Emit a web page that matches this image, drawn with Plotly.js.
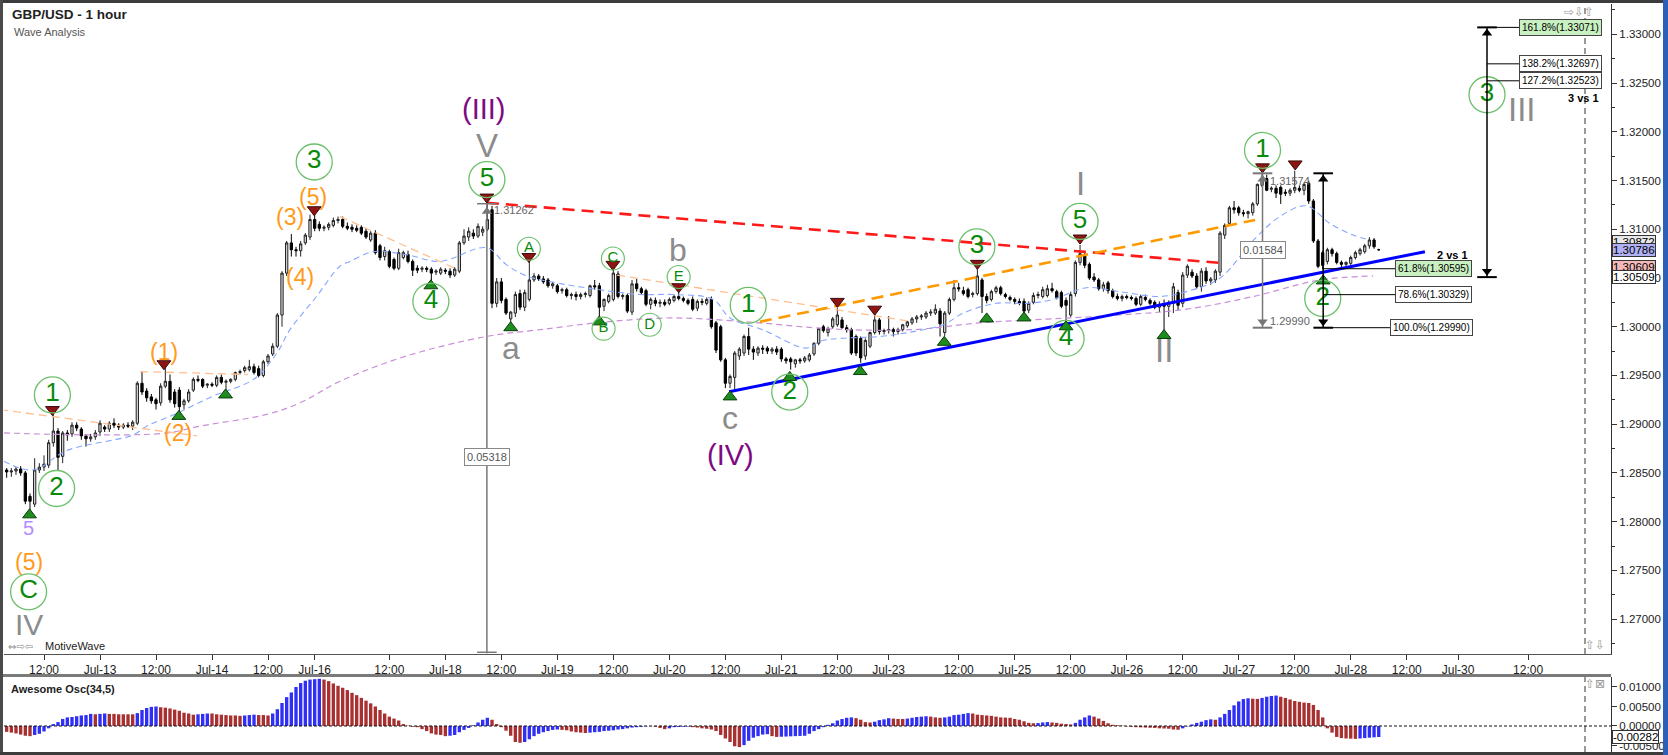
<!DOCTYPE html>
<html><head><meta charset="utf-8">
<script src="https://cdn.plot.ly/plotly-3.0.1.min.js"></script>
<style>html,body{margin:0;padding:0;background:#fff;}#chart{width:1668px;height:755px;}</style>
</head><body><div id="chart"></div>
<script>
// ---------- DATA (hourly GBP/USD bars, index 4..298) ----------
const firstBar = 4;
const opens = [
1.2853,1.2851,1.2852,1.2854,1.2850,1.2826,1.2818,1.2853,1.2856,1.2858,
1.2881,1.2893,1.2867,1.2891,1.2890,1.2899,1.2895,1.2888,1.2885,1.2887,
1.2892,1.2897,1.2895,1.2901,1.2899,1.2897,1.2899,1.2898,1.2901,1.2942,
1.2934,1.2928,1.2925,1.2922,1.2939,1.2944,1.2933,1.2935,1.2920,1.2924,
1.2935,1.2946,1.2946,1.2940,1.2941,1.2940,1.2948,1.2943,1.2944,1.2946,
1.2953,1.2955,1.2956,1.2959,1.2957,1.2950,1.2964,1.2972,1.2980,1.3012,
1.3055,1.3086,1.3079,1.3078,1.3086,1.3092,1.3110,1.3105,1.3101,1.3102,
1.3104,1.3109,1.3110,1.3103,1.3102,1.3101,1.3102,1.3098,1.3089,1.3096,
1.3083,1.3072,1.3077,1.3069,1.3060,1.3071,1.3074,1.3067,1.3060,1.3059,
1.3060,1.3059,1.3056,1.3055,1.3058,1.3057,1.3053,1.3057,1.3086,1.3092,
1.3096,1.3093,1.3097,1.3100,1.3120,1.3024,1.3046,1.3028,1.3008,1.3014,
1.3034,1.3020,1.3028,1.3048,1.3052,1.3049,1.3048,1.3042,1.3042,1.3037,
1.3038,1.3032,1.3033,1.3031,1.3033,1.3032,1.3042,1.3042,1.3021,1.3026,
1.3028,1.3054,1.3031,1.3032,1.3015,1.3044,1.3039,1.3037,1.3023,1.3027,
1.3024,1.3025,1.3024,1.3027,1.3031,1.3029,1.3027,1.3028,1.3019,1.3026,
1.3024,1.3028,1.3004,1.3000,1.2966,1.2942,1.2948,1.2970,1.2973,1.2990,
1.2977,1.2973,1.2978,1.2978,1.2975,1.2977,1.2977,1.2967,1.2967,1.2962,
1.2966,1.2965,1.2966,1.2972,1.2983,1.3000,1.2994,1.3000,1.3002,1.3007,
1.2999,1.2997,1.2990,1.2988,1.2970,1.2980,1.2994,1.3007,1.2995,1.2996,
1.2997,1.2995,1.2997,1.3001,1.3004,1.3008,1.3010,1.3010,1.3014,1.3014,
1.3016,1.2994,1.3014,1.3028,1.3040,1.3037,1.3038,1.3033,1.3034,1.3048,
1.3031,1.3028,1.3036,1.3040,1.3033,1.3030,1.3028,1.3026,1.3026,1.3017,
1.3025,1.3032,1.3031,1.3032,1.3039,1.3036,1.3035,1.3027,1.3012,1.3034,
1.3066,1.3073,1.3064,1.3051,1.3048,1.3039,1.3045,1.3037,1.3031,1.3029,
1.3031,1.3030,1.3029,1.3023,1.3030,1.3027,1.3025,1.3020,1.3023,1.3021,
1.3024,1.3035,1.3024,1.3053,1.3056,1.3052,1.3041,1.3057,1.3047,1.3048,
1.3056,1.3094,1.3106,1.3122,1.3122,1.3117,1.3116,1.3117,1.3126,1.3145,
1.3152,1.3141,1.3142,1.3143,1.3138,1.3137,1.3140,1.3142,1.3140,1.3147,
1.3129,1.3088,1.3076,1.3067,1.3079,1.3075,1.3066,1.3064,1.3065,1.3071,
1.3075,1.3077,1.3083,1.3089,1.3079];
const highs = [
1.2855,1.2855,1.2856,1.2857,1.2852,1.2829,1.2865,1.2860,1.2868,1.2884,
1.2911,1.2896,1.2893,1.2894,1.2902,1.2902,1.2897,1.2890,1.2890,1.2894,
1.2904,1.2899,1.2903,1.2906,1.2901,1.2901,1.2902,1.2904,1.2944,1.2954,
1.2937,1.2931,1.2927,1.2942,1.2959,1.2951,1.2936,1.2938,1.2926,1.2936,
1.2948,1.2950,1.2947,1.2942,1.2943,1.2950,1.2951,1.2946,1.2947,1.2954,
1.2956,1.2960,1.2966,1.2962,1.2960,1.2966,1.2972,1.2983,1.3014,1.3057,
1.3088,1.3095,1.3082,1.3088,1.3096,1.3115,1.3117,1.3108,1.3104,1.3107,
1.3112,1.3113,1.3113,1.3107,1.3105,1.3104,1.3104,1.3101,1.3098,1.3099,
1.3085,1.3082,1.3079,1.3071,1.3080,1.3078,1.3078,1.3069,1.3063,1.3062,
1.3062,1.3061,1.3059,1.3061,1.3060,1.3060,1.3061,1.3088,1.3100,1.3102,
1.3100,1.3106,1.3103,1.3126,1.3124,1.3050,1.3050,1.3030,1.3016,1.3036,
1.3038,1.3038,1.3067,1.3055,1.3054,1.3052,1.3050,1.3046,1.3044,1.3040,
1.3040,1.3035,1.3036,1.3035,1.3036,1.3043,1.3048,1.3045,1.3029,1.3034,
1.3060,1.3057,1.3034,1.3034,1.3048,1.3049,1.3041,1.3039,1.3030,1.3030,
1.3028,1.3028,1.3030,1.3033,1.3037,1.3031,1.3029,1.3031,1.3028,1.3029,
1.3030,1.3031,1.3006,1.3002,1.2968,1.2951,1.2975,1.2979,1.2992,1.2999,
1.2980,1.2980,1.2981,1.2980,1.2979,1.2980,1.2979,1.2969,1.2969,1.2967,
1.2968,1.2970,1.2973,1.2984,1.2999,1.3002,1.3000,1.3010,1.3019,1.3010,
1.3002,1.2999,1.2992,1.2990,1.2988,1.2995,1.3014,1.3009,1.2998,1.3011,
1.2999,1.2999,1.3003,1.3006,1.3010,1.3012,1.3013,1.3016,1.3018,1.3023,
1.3019,1.3016,1.3030,1.3048,1.3045,1.3041,1.3040,1.3036,1.3060,1.3050,
1.3034,1.3038,1.3042,1.3042,1.3035,1.3032,1.3030,1.3029,1.3029,1.3026,
1.3035,1.3036,1.3041,1.3043,1.3045,1.3038,1.3037,1.3030,1.3036,1.3068,
1.3084,1.3077,1.3066,1.3055,1.3050,1.3046,1.3047,1.3039,1.3034,1.3033,
1.3033,1.3032,1.3031,1.3033,1.3033,1.3029,1.3027,1.3026,1.3028,1.3027,
1.3045,1.3038,1.3056,1.3064,1.3059,1.3055,1.3060,1.3061,1.3051,1.3059,
1.3098,1.3106,1.3124,1.3129,1.3124,1.3120,1.3119,1.3128,1.3147,1.3157,
1.3156,1.3144,1.3145,1.3145,1.3141,1.3142,1.3160,1.3145,1.3148,1.3150,
1.3131,1.3090,1.3078,1.3081,1.3081,1.3077,1.3068,1.3067,1.3073,1.3078,
1.3081,1.3085,1.3092,1.3091,1.3080];
const lows = [
1.2845,1.2846,1.2848,1.2847,1.2818,1.2812,1.2815,1.2850,1.2852,1.2855,
1.2877,1.2853,1.2860,1.2883,1.2887,1.2893,1.2884,1.2877,1.2882,1.2884,
1.2888,1.2892,1.2892,1.2896,1.2894,1.2895,1.2896,1.2894,1.2899,1.2930,
1.2923,1.2921,1.2915,1.2919,1.2937,1.2922,1.2917,1.2911,1.2915,1.2922,
1.2933,1.2943,1.2937,1.2937,1.2938,1.2938,1.2941,1.2935,1.2942,1.2944,
1.2951,1.2953,1.2954,1.2951,1.2948,1.2948,1.2962,1.2970,1.2978,1.3000,
1.3052,1.3072,1.3072,1.3072,1.3084,1.3089,1.3098,1.3098,1.3098,1.3099,
1.3102,1.3106,1.3101,1.3099,1.3097,1.3097,1.3094,1.3090,1.3087,1.3074,
1.3068,1.3068,1.3060,1.3058,1.3058,1.3069,1.3065,1.3052,1.3055,1.3056,
1.3056,1.3045,1.3053,1.3053,1.3054,1.3050,1.3051,1.3055,1.3084,1.3088,
1.3090,1.3091,1.3093,1.3098,1.3019,1.3020,1.3024,1.3012,1.3002,1.3010,
1.3017,1.3016,1.3026,1.3046,1.3047,1.3044,1.3040,1.3039,1.3034,1.3034,
1.3030,1.3028,1.3027,1.3028,1.3030,1.3030,1.3038,1.3011,1.3016,1.3024,
1.3026,1.3029,1.3028,1.3014,1.3012,1.3036,1.3033,1.3021,1.3018,1.3021,
1.3020,1.3021,1.3022,1.3025,1.3027,1.3025,1.3022,1.3016,1.3016,1.3022,
1.3022,1.2998,1.2973,1.2964,1.2937,1.2937,1.2935,1.2966,1.2970,1.2971,
1.2966,1.2970,1.2972,1.2972,1.2972,1.2971,1.2964,1.2962,1.2956,1.2958,
1.2962,1.2963,1.2964,1.2970,1.2981,1.2994,1.2990,1.2998,1.3000,1.2998,
1.2994,1.2971,1.2970,1.2963,1.2966,1.2978,1.2992,1.2992,1.2992,1.2993,
1.2990,1.2992,1.2995,1.2999,1.3002,1.3004,1.3007,1.3008,1.3011,1.3012,
1.2990,1.2990,1.3012,1.3026,1.3036,1.3032,1.3029,1.3030,1.3032,1.3014,
1.3024,1.3026,1.3034,1.3032,1.3029,1.3026,1.3023,1.3022,1.3013,1.3014,
1.3023,1.3029,1.3029,1.3030,1.3035,1.3028,1.3019,1.3005,1.3010,1.3031,
1.3063,1.3060,1.3048,1.3046,1.3037,1.3036,1.3034,1.3029,1.3027,1.3026,
1.3028,1.3027,1.3021,1.3021,1.3026,1.3022,1.3018,1.3015,1.2996,1.3010,
1.3014,1.3017,1.3020,1.3050,1.3050,1.3039,1.3036,1.3044,1.3043,1.3045,
1.3052,1.3090,1.3104,1.3116,1.3114,1.3113,1.3111,1.3114,1.3124,1.3143,
1.3139,1.3138,1.3132,1.3126,1.3134,1.3134,1.3137,1.3138,1.3135,1.3126,
1.3086,1.3060,1.3059,1.3064,1.3072,1.3064,1.3061,1.3062,1.3063,1.3069,
1.3073,1.3075,1.3080,1.3080,1.3078];
const closes = [
1.2851,1.2852,1.2854,1.2850,1.2821,1.2821,1.2853,1.2856,1.2859,1.2881,
1.2893,1.2866,1.2891,1.2889,1.2899,1.2896,1.2888,1.2885,1.2887,1.2891,
1.2901,1.2895,1.2901,1.2899,1.2897,1.2899,1.2898,1.2902,1.2942,1.2933,
1.2927,1.2924,1.2921,1.2939,1.2944,1.2925,1.2921,1.2918,1.2924,1.2933,
1.2946,1.2945,1.2939,1.2941,1.2940,1.2948,1.2943,1.2944,1.2946,1.2953,
1.2954,1.2958,1.2959,1.2953,1.2950,1.2964,1.2970,1.2980,1.3012,1.3055,
1.3086,1.3079,1.3078,1.3085,1.3094,1.3110,1.3101,1.3101,1.3102,1.3105,
1.3109,1.3110,1.3103,1.3101,1.3100,1.3099,1.3096,1.3092,1.3096,1.3076,
1.3071,1.3078,1.3062,1.3060,1.3076,1.3076,1.3067,1.3058,1.3058,1.3060,
1.3059,1.3055,1.3057,1.3059,1.3057,1.3053,1.3059,1.3086,1.3093,1.3098,
1.3093,1.3103,1.3100,1.3110,1.3024,1.3046,1.3027,1.3014,1.3015,1.3033,
1.3020,1.3035,1.3048,1.3052,1.3049,1.3046,1.3042,1.3044,1.3036,1.3038,
1.3032,1.3033,1.3031,1.3033,1.3034,1.3042,1.3041,1.3020,1.3028,1.3032,
1.3055,1.3031,1.3032,1.3016,1.3044,1.3039,1.3035,1.3023,1.3028,1.3024,
1.3025,1.3023,1.3028,1.3031,1.3029,1.3027,1.3024,1.3018,1.3026,1.3025,
1.3028,1.3000,1.2976,1.2966,1.2942,1.2949,1.2973,1.2977,1.2990,1.2977,
1.2974,1.2978,1.2977,1.2975,1.2977,1.2974,1.2967,1.2965,1.2964,1.2966,
1.2965,1.2968,1.2971,1.2983,1.2998,1.2996,1.2998,1.3008,1.3012,1.2999,
1.2997,1.2973,1.2973,1.2968,1.2986,1.2994,1.3007,1.2995,1.2996,1.2997,
1.2995,1.2997,1.3002,1.3005,1.3008,1.3010,1.3011,1.3014,1.3015,1.3018,
1.3003,1.3014,1.3028,1.3040,1.3039,1.3034,1.3031,1.3034,1.3052,1.3031,
1.3027,1.3036,1.3040,1.3034,1.3031,1.3028,1.3026,1.3024,1.3016,1.3024,
1.3032,1.3033,1.3038,1.3039,1.3037,1.3030,1.3021,1.3022,1.3033,1.3066,
1.3075,1.3063,1.3050,1.3048,1.3039,1.3043,1.3037,1.3031,1.3029,1.3031,
1.3030,1.3029,1.3023,1.3031,1.3028,1.3024,1.3020,1.3023,1.3021,1.3025,
1.3041,1.3022,1.3053,1.3062,1.3052,1.3041,1.3057,1.3047,1.3049,1.3057,
1.3096,1.3104,1.3122,1.3120,1.3117,1.3116,1.3118,1.3126,1.3146,1.3152,
1.3140,1.3142,1.3137,1.3136,1.3137,1.3140,1.3143,1.3140,1.3146,1.3129,
1.3088,1.3062,1.3063,1.3079,1.3075,1.3066,1.3064,1.3066,1.3071,1.3076,
1.3079,1.3083,1.3089,1.3082,1.3079];
// Awesome Oscillator (34,5) per bar
const aoValues = [
-0.0015,-0.0017,-0.0019,-0.0022,-0.0025,-0.0026,-0.0023,-0.0020,-0.0014,-0.0006,
0.0005,0.0010,0.0018,0.0022,0.0023,0.0025,0.0027,0.0028,0.0031,0.0030,
0.0031,0.0032,0.0031,0.0031,0.0030,0.0030,0.0030,0.0030,0.0033,0.0041,
0.0046,0.0049,0.0050,0.0048,0.0047,0.0045,0.0042,0.0039,0.0034,0.0032,
0.0029,0.0030,0.0031,0.0032,0.0032,0.0030,0.0029,0.0028,0.0027,0.0027,
0.0026,0.0027,0.0028,0.0029,0.0028,0.0028,0.0027,0.0032,0.0043,0.0059,
0.0074,0.0086,0.0100,0.0110,0.0116,0.0119,0.0120,0.0121,0.0119,0.0115,
0.0109,0.0103,0.0098,0.0092,0.0085,0.0079,0.0072,0.0065,0.0058,0.0050,
0.0041,0.0032,0.0024,0.0019,0.0014,0.0005,0.0001,-0.0002,-0.0003,-0.0008,
-0.0013,-0.0019,-0.0022,-0.0023,-0.0026,-0.0025,-0.0023,-0.0016,-0.0010,-0.0005,
0.0002,0.0009,0.0016,0.0021,0.0016,0.0005,-0.0003,-0.0012,-0.0025,-0.0041,
-0.0043,-0.0041,-0.0034,-0.0026,-0.0020,-0.0016,-0.0013,-0.0010,-0.0009,-0.0010,
-0.0011,-0.0014,-0.0016,-0.0017,-0.0018,-0.0017,-0.0016,-0.0015,-0.0013,-0.0012,
-0.0011,-0.0009,-0.0008,-0.0006,-0.0004,-0.0003,-0.0002,-0.0001,-0.00005,-0.0002,
-0.0005,-0.0008,-0.0006,-0.0003,-0.00025,-0.0002,-0.00015,-0.0003,-0.0004,-0.0006,
-0.0007,-0.0009,-0.0013,-0.0023,-0.0032,-0.0041,-0.0052,-0.0054,-0.0049,-0.0038,
-0.0030,-0.0026,-0.0022,-0.0021,-0.0026,-0.0028,-0.00275,-0.0027,-0.00265,-0.0026,
-0.00255,-0.0025,-0.0020,-0.0013,-0.0008,-0.0003,0.0003,0.0007,0.0014,0.0018,
0.0021,0.0022,0.0020,0.0016,0.0010,0.0009,0.0011,0.0015,0.0017,0.0020,
0.0019,0.0018,0.0018,0.0019,0.0021,0.0023,0.0024,0.0025,0.0024,0.0022,
0.0021,0.0022,0.0024,0.0028,0.0029,0.0031,0.0033,0.0032,0.0029,0.0028,
0.0027,0.0026,0.0024,0.0022,0.00215,0.0021,0.0018,0.0016,0.0012,0.0008,
0.0007,0.00075,0.0009,0.0010,0.0009,0.0008,0.0006,0.0005,0.0004,0.0008,
0.0016,0.0022,0.0027,0.0024,0.0019,0.0013,0.0007,0.0003,0.0002,0.0001,
-0.0001,-0.0002,-0.0003,-0.00035,-0.0004,-0.00045,-0.0005,-0.0006,-0.00065,-0.0007,
-0.0009,-0.00095,-0.0006,-0.0001,0.0004,0.0008,0.0011,0.0015,0.0017,0.0016,
0.0022,0.0031,0.0041,0.0053,0.0063,0.0069,0.0071,0.0070,0.00695,0.0072,
0.0075,0.0077,0.0078,0.0075,0.0072,0.0068,0.0064,0.0062,0.0060,0.0059,
0.0054,0.0041,0.0022,-0.0006,-0.0017,-0.0028,-0.0031,-0.0032,-0.00325,-0.0033,
-0.0032,-0.0031,-0.0030,-0.0029,-0.00282];
const tickIdx = [12,24,36,48,60,70,86,98,110,122,134,146,158,170,182,193,208,220,232,244,256,268,280,292,304,315,330];
const tickText = ['12:00','Jul-13','12:00','Jul-14','12:00','Jul-16','12:00','Jul-18','12:00','Jul-19','12:00','Jul-20','12:00','Jul-21','12:00','Jul-23','12:00','Jul-25','12:00','Jul-26','12:00','Jul-27','12:00','Jul-28','12:00','Jul-30','12:00'];
// moving averages
const fastMaX = [3.4,9.7,16.9,31.1,34,40.4,48.3,56.9,61.9,64.7,70.4,75.4,77.6,82.5,89.7,96.8,106.8,111,115.4,121.8,131,139.7,146.8,155.4,159,166,175.4,178.3,182.6,191.2,198.3,204.7,209,216,222.6,228.2,235.4,242.5,251,256.8,264,271,276.8,282.5,287.5,292.5,296.1];
const fastMaY = [1.2862,1.2853,1.2873,1.2889,1.2898,1.2911,1.2929,1.2946,1.2973,1.2997,1.3031,1.3062,1.3067,1.3077,1.3074,1.3067,1.3081,1.3064,1.3052,1.3045,1.3038,1.3033,1.3033,1.3028,1.3009,1.2997,1.2978,1.2985,1.2988,1.2990,1.2995,1.3002,1.3014,1.3024,1.3024,1.3028,1.3040,1.3036,1.3031,1.3036,1.3050,1.3088,1.3113,1.3124,1.3106,1.3094,1.3089];
const slowMaX = [3.4,24,38.3,45.4,59.7,66.9,75.4,89.7,106.8,118.3,132.5,146.8,162.6,176.9,184,198.3,212.6,223.3,242.5,256.8,271.1,285.4,296.8];
const slowMaY = [1.2891,1.2889,1.2891,1.2898,1.2910,1.2922,1.2944,1.2970,1.2990,1.2997,1.3005,1.3009,1.3005,1.2999,1.2997,1.2997,1.3004,1.3007,1.3012,1.3018,1.3031,1.3048,1.3052];
// trend lines [x0, y0, x1, y1]
const redLine = [106.9, 1.31272, 265.1, 1.30650];
const orangeLine = [165.4, 1.30051, 271.5, 1.31095];
const blueLine = [158.8, 1.29333, 307.9, 1.30770];
const thinOrange = [[2.6,1.2915,44.8,1.2888],[32.6,1.2954,55.7,1.2951],[75.4,1.3113,100.5,1.3059],[134.8,1.3053,196.9,1.3006]];
// wave labels
const bigCircleX = [13.8,14.7,69.9,94.9,106.9,162.9,171.8,211.9,231.0,234.0,273.1,286.0,321.2,8.7];
const bigCircleY = [1.2930,1.2834,1.3169,1.3026,1.3151,1.3022,1.2933,1.3082,1.2988,1.3108,1.3181,1.3029,1.3238,1.2728];
const bigCircleT = ['1','2','3','4','5','1','2','3','4','5','1','2','3','C'];
const smallCircleX = [115.9,131.9,133.9,141.8,148.0];
const smallCircleY = [1.3080,1.2998,1.3070,1.3002,1.3051];
const smallCircleT = ['A','B','C','D','E'];
const upTriX = [8.9,40.9,50.9,94.9,112.0,131.0,159.0,171.8,186.9,204.9,214.0,222.0,231.0,252.0,286.1];
const upTriY = [1.2807,1.2908,1.2930,1.3042,1.2999,1.3005,1.2928,1.2948,1.2954,1.2984,1.3008,1.3009,1.3000,1.2991,1.3047];
const dnTriX = [13.8,37.7,69.9,106.9,115.9,133.9,148.0,182.0,190.0,212.0,234.0,273.1,280.1];
const dnTriY = [1.2915,1.2962,1.3120,1.3133,1.3072,1.3064,1.3041,1.3026,1.3018,1.3065,1.3091,1.3164,1.3167];
const orangeLabT = ['(1)','(2)','(3)','(4)','(5)','(5)'];
const orangeLabX = [37.7,40.8,64.7,66.9,69.7,8.7];
const orangeLabY = [1.2974,1.2891,1.3113,1.3051,1.3133,1.2759];
const greyLabT = ['V','I','II','III','IV','a','b','c'];
const greyLabX = [106.9,234.1,252.0,328.7,8.7,112.0,147.9,159.0];
const greyLabY = [1.3186,1.3147,1.2976,1.3223,1.2694,1.2978,1.3079,1.2906];
const purpleLabT = ['(III)','(IV)'];
const purpleLabX = [106.3,159.0];
const purpleLabY = [1.3223,1.2868];
// measurements & fibonacci
const retrPct = ['61.8%','78.6%','100.0%'];
const retrPrice = [1.30595,1.30329,1.29990];
const extPct = ['161.8%','138.2%','127.2%'];
const extPrice = [1.33071,1.32697,1.32523];
const wave1High = 1.31574, wave1Low = 1.29990, wave3Target = 1.33071, extBase = 1.30509;
const majorTop = 1.31262;
const tags = [['1.30872','#e8e8e8'],['1.30786','#b0b0f4'],['1.30609','#f4b8b8'],['1.30509','#ffffff']];
const aoLast = -0.00282;

// ---------- LAYOUT HELPERS ----------
const W = 1668, H = 755, ML = 4, MR = 57, MT = 4, MB = 3;
const PW = W - ML - MR, PH = H - MT - MB;
const PX = px => (px - ML) / PW;
const PY = py => (H - MB - py) / PH;
const FONT = 'Liberation Sans, Arial, sans-serif';
const xs = opens.map((_, i) => firstBar + i);

const traces = [];
traces.push({type:'scatter', mode:'lines', x: slowMaX, y: slowMaY, line:{color:'#c98fd8', width:1.2, dash:'6px,4px', shape:'spline'}, hoverinfo:'skip'});
traces.push({type:'scatter', mode:'lines', x: fastMaX, y: fastMaY, line:{color:'#86a6ff', width:1.1, dash:'6px,4px', shape:'spline'}, hoverinfo:'skip'});
thinOrange.forEach(s => traces.push({type:'scatter', mode:'lines', x:[s[0],s[2]], y:[s[1],s[3]], line:{color:'#ffbf90', width:1.3, dash:'8px,5px'}, hoverinfo:'skip'}));
traces.push({type:'candlestick', x: xs, open: opens, high: highs, low: lows, close: closes,
  increasing:{line:{color:'#222', width:1}, fillcolor:'#d4d4d4'},
  decreasing:{line:{color:'#000', width:1}, fillcolor:'#000'},
  whiskerwidth:0, hoverinfo:'skip'});
traces.push({type:'scatter', mode:'lines', x:[redLine[0],redLine[2]], y:[redLine[1],redLine[3]], line:{color:'#ff1a1a', width:2.6, dash:'12px,7px'}, hoverinfo:'skip'});
traces.push({type:'scatter', mode:'lines', x:[orangeLine[0],orangeLine[2]], y:[orangeLine[1],orangeLine[3]], line:{color:'#ff9900', width:2.6, dash:'12px,7px'}, hoverinfo:'skip'});
traces.push({type:'scatter', mode:'lines', x:[blueLine[0],blueLine[2]], y:[blueLine[1],blueLine[3]], line:{color:'#0000ff', width:3}, hoverinfo:'skip'});
// triangles
traces.push({type:'scatter', mode:'markers', x: upTriX, y: upTriY, marker:{symbol:'triangle-up', size:12, color:'#1e8c1e', line:{color:'#0b3d0b', width:1}}, hoverinfo:'skip'});
traces.push({type:'scatter', mode:'markers', x: dnTriX, y: dnTriY, marker:{symbol:'triangle-down', size:12, color:'#8c1414', line:{color:'#3d0808', width:1}}, hoverinfo:'skip'});
// measurement arrowheads
traces.push({type:'scatter', mode:'markers', x:[106.9, 273.1], y:[majorTop-0.0008, wave1High-0.0006], marker:{symbol:'triangle-up', size:9, color:'#777'}, hoverinfo:'skip'});
traces.push({type:'scatter', mode:'markers', x:[273.1], y:[wave1Low+0.0006], marker:{symbol:'triangle-down', size:9, color:'#777'}, hoverinfo:'skip'});
traces.push({type:'scatter', mode:'markers', x:[286.1, 321.2], y:[wave1High-0.0006, wave3Target-0.0006], marker:{symbol:'triangle-up', size:9, color:'#000'}, hoverinfo:'skip'});
traces.push({type:'scatter', mode:'markers', x:[286.1, 321.2], y:[wave1Low+0.0006, extBase+0.0006], marker:{symbol:'triangle-down', size:9, color:'#000'}, hoverinfo:'skip'});
// circled labels
traces.push({type:'scatter', mode:'markers+text', x: bigCircleX, y: bigCircleY, text: bigCircleT, textposition:'middle center',
  textfont:{family:FONT, size:26, color:'#0a8a0a'}, marker:{symbol:'circle-open', size:36, color:'#6cc06c', line:{width:1.3}}, hoverinfo:'skip'});
traces.push({type:'scatter', mode:'markers+text', x: smallCircleX, y: smallCircleY, text: smallCircleT, textposition:'middle center',
  textfont:{family:FONT, size:15, color:'#0a8a0a'}, marker:{symbol:'circle-open', size:23, color:'#6cc06c', line:{width:1.2}}, hoverinfo:'skip'});
// awesome oscillator
const aoColors = aoValues.map((v, i) => (i > 0 && v > aoValues[i-1]) ? '#2f2ff5' : '#a83030');
traces.push({type:'bar', x: xs, y: aoValues, yaxis:'y2', width:0.72, marker:{color: aoColors, line:{width:0}}, hoverinfo:'skip'});

const shapes = [];
const ln = (x0,y0,x1,y1,color,width,dash,yref) => shapes.push({type:'line', xref:'x', yref: yref||'y', x0, y0, x1, y1, line:{color, width, dash: dash||'solid'}});
// measurement lines
ln(106.9, majorTop, 106.9, 1.2665, '#777', 1.5);
ln(104.8, majorTop, 109.0, majorTop, '#777', 1.5);
ln(104.8, 1.2666, 109.0, 1.2666, '#777', 1.5);
ln(273.1, wave1High, 273.1, wave1Low, '#777', 1.5);
ln(271.0, wave1High, 275.2, wave1High, '#777', 2);
ln(271.0, wave1Low, 275.2, wave1Low, '#777', 2);
ln(286.1, wave1High, 286.1, wave1Low, '#000', 1.5);
ln(284.0, wave1High, 288.2, wave1High, '#000', 2);
ln(284.0, wave1Low, 288.2, wave1Low, '#000', 2);
retrPrice.forEach((p, i) => ln(286.1, p, i === 2 ? 300.4 : 301.5, p, '#000', 1));
ln(321.2, wave3Target, 321.2, extBase, '#000', 1.5);
ln(319.1, wave3Target, 323.3, wave3Target, '#000', 2);
ln(319.1, extBase, 323.3, extBase, '#000', 2);
extPrice.forEach(p => ln(321.2, p, 328.1, p, '#000', 1));
// future dashed line
shapes.push({type:'line', xref:'x', yref:'y domain', x0:342.2, x1:342.2, y0:0, y1:1, line:{color:'#333', width:1, dash:'6px,4px'}});
shapes.push({type:'line', xref:'x', yref:'y2 domain', x0:342.2, x1:342.2, y0:0, y1:1, line:{color:'#333', width:1, dash:'6px,4px'}});
// oscillator zero line
shapes.push({type:'line', xref:'x domain', yref:'y2', x0:0, x1:1, y0:0, y1:0, line:{color:'#111', width:1, dash:'3px,2px'}});
// frame
const rect = (x0,y0,x1,y1,color) => shapes.push({type:'rect', xref:'paper', yref:'paper', x0:PX(x0), x1:PX(x1), y0:PY(y1), y1:PY(y0), fillcolor:color, line:{width:0}, layer:'above'});
rect(0,0,W,3,'#3c3c3c');
rect(0,0,3,H,'#4a4a4a');
rect(0,752,W,H,'#3c3c3c');
rect(3,674,1611,677,'#7a7a7a');
rect(1663,0,W,H,'#2c5fb8');

const ann = [];
const txt = (x, y, text, opts) => ann.push(Object.assign({x, y, text, showarrow:false, xref:'x', yref:'y', font:{family:FONT, size:12, color:'#000'}}, opts||{}));
orangeLabT.forEach((t, i) => txt(orangeLabX[i], orangeLabY[i], t, {font:{family:FONT, size:23, color:'#ff9a1a'}}));
greyLabT.forEach((t, i) => txt(greyLabX[i], greyLabY[i], t, {font:{family:FONT, size:i === 4 ? 30 : (i < 5 ? 33 : 32), color:'#8c8c8c'}}));
purpleLabT.forEach((t, i) => txt(purpleLabX[i], purpleLabY[i], t, {font:{family:FONT, size:29, color:'#7d0a82'}}));
txt(8.6, 1.2793, '5', {font:{family:FONT, size:20, color:'#b48cff'}});
txt(108.0, majorTop - 0.0006, '1.31262', {xanchor:'left', font:{family:FONT, size:11, color:'#666'}});
txt(274.3, 1.3150, '1.31574', {xanchor:'left', font:{family:FONT, size:11, color:'#666'}});
txt(274.3, wave1Low + 0.0007, '1.29990', {xanchor:'left', font:{family:FONT, size:11, color:'#666'}});
txt(106.9, 1.2866, (majorTop - 1.25944).toFixed(5), {bgcolor:'#fff', bordercolor:'#888', borderwidth:1, borderpad:2, font:{family:FONT, size:11, color:'#555'}});
txt(273.1, 1.3079, (wave1High - wave1Low).toFixed(5), {bgcolor:'#fff', bordercolor:'#888', borderwidth:1, borderpad:2, font:{family:FONT, size:11, color:'#555'}});
retrPct.forEach((p, i) => txt(i === 2 ? 300.4 : 301.5, retrPrice[i], p + '(' + retrPrice[i].toFixed(5) + ')', {xanchor:'left', bgcolor: i === 0 ? '#c8f0c0' : '#fff', bordercolor:'#444', borderwidth:1, borderpad:2, font:{family:FONT, size:10, color:'#000'}}));
extPct.forEach((p, i) => txt(328.1, extPrice[i], p + '(' + extPrice[i].toFixed(5) + ')', {xanchor:'left', bgcolor: i === 0 ? '#c8f0c0' : '#fff', bordercolor:'#444', borderwidth:1, borderpad:2, font:{family:FONT, size:10, color:'#000'}}));
txt(341.8, 1.3235, '<b>3 vs 1</b>', {font:{family:FONT, size:11, color:'#000'}});
txt(313.9, 1.30735, '<b>2 vs 1</b>', {font:{family:FONT, size:11, color:'#000'}});
// price tags on the right axis
tags.forEach(t => ann.push({xref:'paper', yref:'y', x:PX(1612), y: parseFloat(t[0]), xanchor:'left', text:t[0], showarrow:false, bgcolor:t[1], bordercolor:'#333', borderwidth:1, borderpad:0, font:{family:FONT, size:11.5, color:'#000'}}));
ann.push({xref:'paper', yref:'y2', x:PX(1612), y: aoLast, xanchor:'left', text: aoLast.toFixed(5), showarrow:false, bgcolor:'#fff', bordercolor:'#333', borderwidth:1, borderpad:0, font:{family:FONT, size:11.5, color:'#000'}});
// captions
const pap = (px, py, text, size, color, extra) => ann.push(Object.assign({xref:'paper', yref:'paper', x:PX(px), y:PY(py), text, showarrow:false, xanchor:'left', yanchor:'middle', font:{family:FONT, size, color}}, extra||{}));
const ICON = 'DejaVu Sans, sans-serif';
pap(10, 15, '<b>GBP/USD - 1 hour</b>', 13.5, '#222');
pap(12, 32, 'Wave Analysis', 11, '#555');
pap(6, 646, '⇔⇨⇦', 10, '#888', {font:{family:ICON, size:10, color:'#888'}});
pap(43, 646, 'MotiveWave', 11, '#222');
pap(9, 689, '<b>Awesome Osc(34,5)</b>', 11, '#222');
pap(1562, 12, '⇨⇩⇧', 12, '#999', {font:{family:ICON, size:12, color:'#999'}});
pap(1583, 645, '⇧⇩', 12, '#999', {font:{family:ICON, size:12, color:'#999'}});
pap(1583, 684, '⇧⊠', 12, '#999', {font:{family:ICON, size:12, color:'#999'}});

const layout = {
  width: W, height: H, margin:{l:ML, r:MR, t:MT, b:MB}, paper_bgcolor:'#fff', plot_bgcolor:'#fff',
  showlegend:false, hovermode:false, dragmode:false,
  font:{family:FONT, size:12, color:'#222'},
  xaxis:{range:[3.43, 347.77], anchor:'y', tickmode:'array', tickvals: tickIdx, ticktext: tickText, ticks:'outside', ticklen:5, tickcolor:'#333',
    showline:true, linecolor:'#555', showgrid:false, zeroline:false, rangeslider:{visible:false}, tickfont:{family:FONT, size:12, color:'#222'}},
  yaxis:{domain:[0.131, 1], range:[1.266422, 1.333109], side:'right', tickformat:'.5f', tick0:1.27, dtick:0.005, ticks:'outside', ticklen:5, tickcolor:'#333',
    showline:true, linecolor:'#333', showgrid:false, zeroline:false, tickfont:{family:FONT, size:11.5, color:'#222'},
    minor:{dtick:0.0025, ticks:'outside', ticklen:3, tickcolor:'#333'}},
  yaxis2:{domain:[0, 0.1003], range:[-0.006667, 0.012564], side:'right', anchor:'x', tickmode:'array',
    tickvals:[0.01, 0.005, 0, -0.005], ticktext:['0.01000','0.00500','0.00000','-0.00500'], ticks:'outside', ticklen:5, tickcolor:'#333',
    showline:true, linecolor:'#333', showgrid:false, zeroline:false, tickfont:{family:FONT, size:11.5, color:'#222'}},
  shapes, annotations: ann, bargap:0.2
};
Plotly.newPlot('chart', traces, layout, {displayModeBar:false, staticPlot:true});
</script></body></html>
